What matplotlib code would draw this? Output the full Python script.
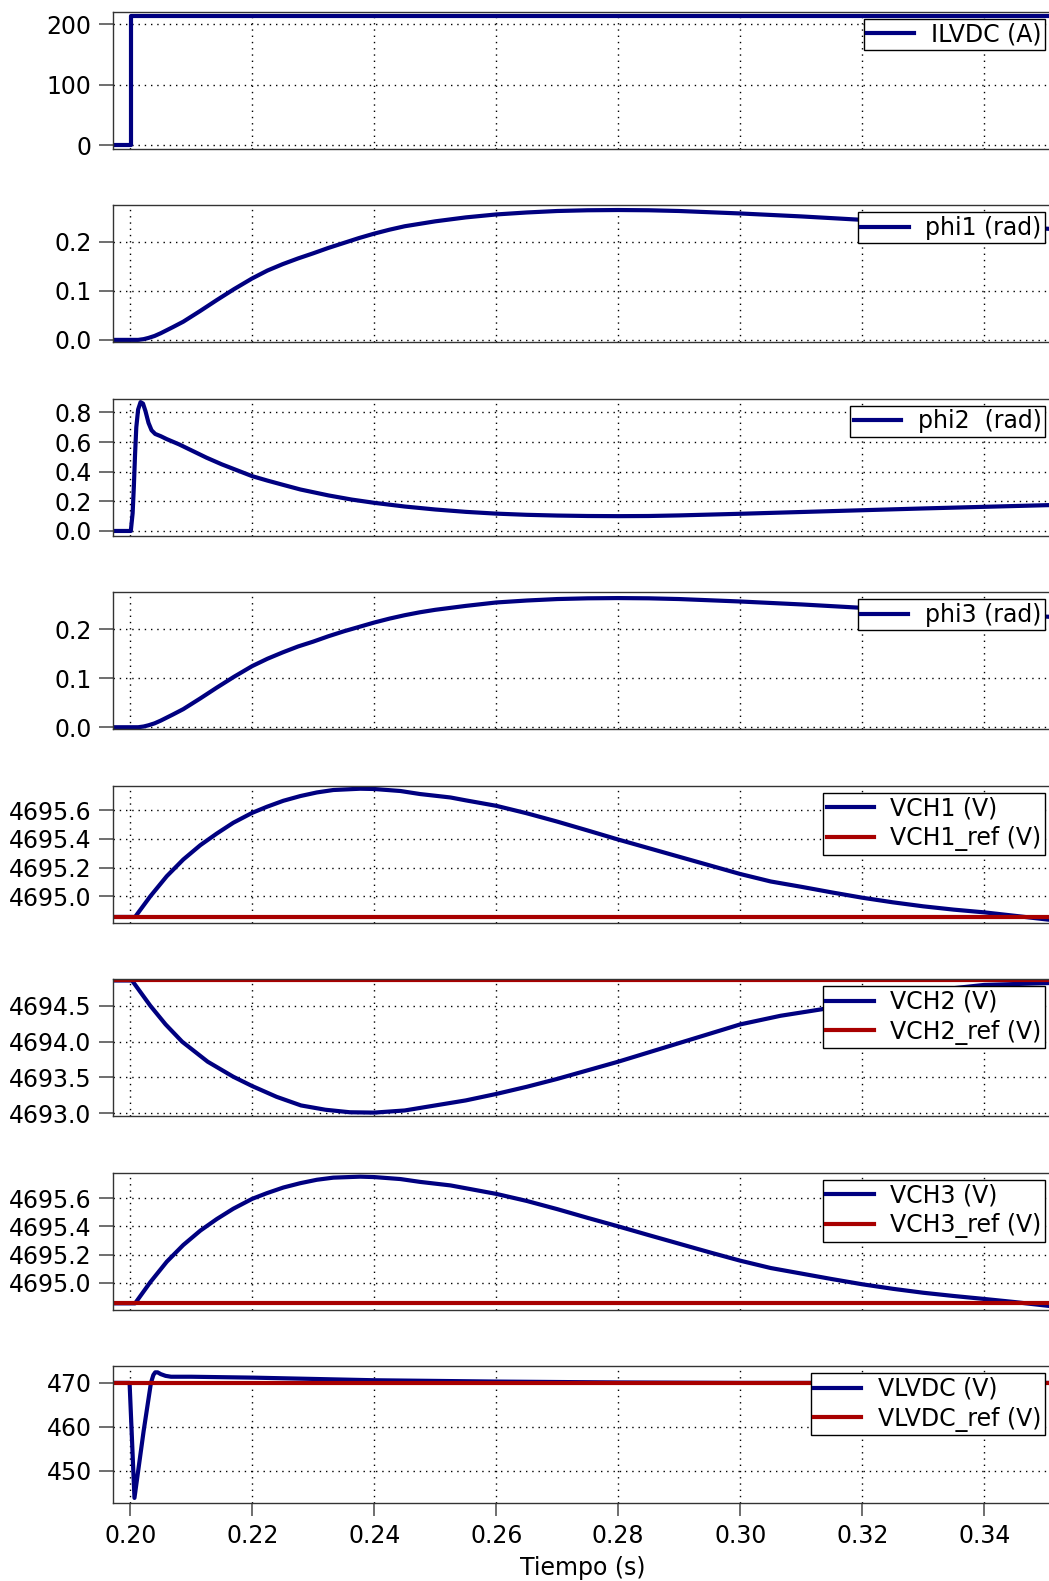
import matplotlib
matplotlib.use('Agg')
import matplotlib.pyplot as plt
from matplotlib.ticker import FormatStrFormatter

# datos (tiempo en s)
t_ilvdc = [0.1971, 0.2001, 0.2001, 0.3520]
ilvdc = [0, 0, 213, 213]

t_phi1 = [0.1971, 0.2013, 0.2022, 0.2030, 0.2040, 0.2050, 0.2070, 0.2087, 0.2115, 0.2142,
          0.2170, 0.2200, 0.2225, 0.2250, 0.2275, 0.2300, 0.2325, 0.2350, 0.2375, 0.2400,
          0.2425, 0.2450, 0.2475, 0.2500, 0.2550, 0.2600, 0.2650, 0.2700, 0.2750, 0.2800,
          0.2850, 0.2900, 0.3000, 0.3100, 0.3200, 0.3300, 0.3400, 0.3520]
phi1 = [0, 0, 0.0015, 0.004, 0.008, 0.0135, 0.026, 0.037, 0.059, 0.081,
        0.103, 0.125, 0.141, 0.154, 0.1655, 0.176, 0.187, 0.197, 0.207, 0.216,
        0.224, 0.231, 0.236, 0.241, 0.249, 0.255, 0.259, 0.262, 0.2635, 0.264,
        0.2635, 0.262, 0.257, 0.251, 0.244, 0.238, 0.232, 0.225]

t_phi2 = [0.1971, 0.2001, 0.2004, 0.2006, 0.2008, 0.2010, 0.2013, 0.2017, 0.2021, 0.2025,
          0.2030, 0.2035, 0.2041, 0.2050, 0.2060, 0.2080, 0.2100, 0.2125, 0.2150, 0.2175,
          0.2200, 0.2225, 0.2250, 0.2279, 0.2325, 0.2363, 0.2400, 0.2450, 0.2500, 0.2550,
          0.2600, 0.2650, 0.2700, 0.2750, 0.2800, 0.2850, 0.2900, 0.3000, 0.3100, 0.3200,
          0.3300, 0.3400, 0.3520]
phi2 = [0, 0, 0.12, 0.30, 0.52, 0.70, 0.82, 0.87, 0.86, 0.81,
        0.73, 0.68, 0.655, 0.64, 0.62, 0.585, 0.545, 0.495, 0.45, 0.41,
        0.37, 0.34, 0.312, 0.28, 0.24, 0.212, 0.19, 0.165, 0.145, 0.129,
        0.117, 0.109, 0.104, 0.101, 0.100, 0.101, 0.105, 0.116, 0.128, 0.140,
        0.152, 0.163, 0.176]

t_phi3 = [0.1971, 0.2013, 0.2022, 0.2030, 0.2040, 0.2050, 0.2070, 0.2087, 0.2115, 0.2142,
          0.2170, 0.2200, 0.2225, 0.2250, 0.2275, 0.2300, 0.2325, 0.2350, 0.2375, 0.2400,
          0.2425, 0.2450, 0.2475, 0.2500, 0.2550, 0.2600, 0.2650, 0.2700, 0.2750, 0.2800,
          0.2850, 0.2900, 0.3000, 0.3100, 0.3200, 0.3300, 0.3400, 0.3520]
phi3 = [0, 0, 0.0015, 0.004, 0.008, 0.0135, 0.026, 0.037, 0.059, 0.081,
        0.103, 0.125, 0.140, 0.153, 0.165, 0.175, 0.186, 0.196, 0.205, 0.214,
        0.222, 0.229, 0.235, 0.240, 0.248, 0.255, 0.259, 0.262, 0.2635, 0.264,
        0.2635, 0.262, 0.257, 0.251, 0.244, 0.238, 0.232, 0.225]

t_vch1 = [0.1971, 0.2008, 0.2033, 0.2060, 0.2087, 0.2115, 0.2142, 0.2169, 0.2200, 0.2224,
          0.2251, 0.2279, 0.2306, 0.2333, 0.2377, 0.2400, 0.2443, 0.2475, 0.2525, 0.2550,
          0.2600, 0.2650, 0.2700, 0.2750, 0.2800, 0.2850, 0.2900, 0.2950, 0.3000, 0.3050,
          0.3100, 0.3150, 0.3200, 0.3250, 0.3300, 0.3350, 0.3400, 0.3450, 0.3520]
vch1 = [4694.856, 4694.856, 4695.000, 4695.140, 4695.256, 4695.356, 4695.437, 4695.512,
        4695.581, 4695.623, 4695.665, 4695.698, 4695.723, 4695.740, 4695.749, 4695.747,
        4695.733, 4695.712, 4695.688, 4695.668, 4695.630, 4695.578, 4695.520, 4695.458,
        4695.395, 4695.335, 4695.275, 4695.215, 4695.155, 4695.103, 4695.066, 4695.027,
        4694.990, 4694.958, 4694.930, 4694.907, 4694.888, 4694.864, 4694.830]
vch1_ref = 4694.856

t_vch2 = [0.1971, 0.2003, 0.2033, 0.2058, 0.2085, 0.2127, 0.2169, 0.2200, 0.2240, 0.2280,
          0.2320, 0.2360, 0.2400, 0.2450, 0.2500, 0.2550, 0.2600, 0.2650, 0.2700, 0.2750,
          0.2800, 0.2900, 0.3000, 0.3066, 0.3133, 0.3200, 0.3300, 0.3400, 0.3520]
vch2 = [4694.852, 4694.852, 4694.50, 4694.24, 4694.00, 4693.72, 4693.51, 4693.38, 4693.23,
        4693.11, 4693.05, 4693.015, 4693.01, 4693.04, 4693.11, 4693.18, 4693.27, 4693.37,
        4693.48, 4693.60, 4693.72, 4693.98, 4694.24, 4694.36, 4694.45, 4694.56, 4694.70,
        4694.79, 4694.82]
vch2_ref = 4694.852

t_vch3 = [0.1971, 0.2008, 0.2033, 0.2060, 0.2087, 0.2115, 0.2142, 0.2169, 0.2200, 0.2224,
          0.2251, 0.2279, 0.2306, 0.2333, 0.2377, 0.2400, 0.2443, 0.2475, 0.2525, 0.2550,
          0.2600, 0.2650, 0.2700, 0.2750, 0.2800, 0.2850, 0.2900, 0.2950, 0.3000, 0.3050,
          0.3100, 0.3150, 0.3200, 0.3250, 0.3300, 0.3350, 0.3400, 0.3450, 0.3520]
vch3 = [4694.855, 4694.855, 4695.005, 4695.150, 4695.268, 4695.370, 4695.452, 4695.525,
        4695.595, 4695.635, 4695.675, 4695.706, 4695.730, 4695.745, 4695.752, 4695.749,
        4695.735, 4695.715, 4695.690, 4695.670, 4695.630, 4695.580, 4695.522, 4695.460,
        4695.400, 4695.338, 4695.277, 4695.216, 4695.157, 4695.105, 4695.066, 4695.027,
        4694.990, 4694.958, 4694.930, 4694.907, 4694.886, 4694.864, 4694.830]
vch3_ref = 4694.855

t_vlvdc = [0.1971, 0.1999, 0.2007, 0.2022, 0.2034, 0.2038, 0.2041, 0.2045, 0.2050, 0.2058,
           0.2067, 0.2100, 0.2200, 0.2400, 0.2600, 0.2800, 0.3000, 0.3200, 0.3520]
vlvdc = [470, 470, 443.8, 459, 470, 471.8, 472.4, 472.4, 472.0, 471.6,
         471.4, 471.4, 471.2, 470.6, 470.3, 470.1, 470.0, 470.0, 470.0]
vlvdc_ref = 470

x_ticks = [0.20, 0.22, 0.24, 0.26, 0.28, 0.30, 0.32, 0.34]

AZUL = '#000080'
ROJO = '#a80000'
FS = 17

plt.rcParams['font.family'] = 'DejaVu Sans'

fig = plt.figure(figsize=(10.49, 15.81), dpi=100)
W, H = 1049.0, 1581.0

paneles = [
    ([(t_ilvdc, ilvdc, 'ILVDC (A)')], None, (-5.5, 220.9), [0, 100, 200], '%d'),
    ([(t_phi1, phi1, 'phi1 (rad)')], None, (-0.0047, 0.2738), [0.0, 0.1, 0.2], '%.1f'),
    ([(t_phi2, phi2, 'phi2  (rad)')], None, (-0.032, 0.893), [0.0, 0.2, 0.4, 0.6, 0.8], '%.1f'),
    ([(t_phi3, phi3, 'phi3 (rad)')], None, (-0.004, 0.276), [0.0, 0.1, 0.2], '%.1f'),
    ([(t_vch1, vch1, 'VCH1 (V)')], (vch1_ref, 'VCH1_ref (V)'), (4694.816, 4695.77),
     [4695.0, 4695.2, 4695.4, 4695.6], '%.1f'),
    ([(t_vch2, vch2, 'VCH2 (V)')], (vch2_ref, 'VCH2_ref (V)'), (4692.96, 4694.87),
     [4693.0, 4693.5, 4694.0, 4694.5], '%.1f'),
    ([(t_vch3, vch3, 'VCH3 (V)')], (vch3_ref, 'VCH3_ref (V)'), (4694.81, 4695.78),
     [4695.0, 4695.2, 4695.4, 4695.6], '%.1f'),
    ([(t_vlvdc, vlvdc, 'VLVDC (V)')], (vlvdc_ref, 'VLVDC_ref (V)'), (442.6, 473.8),
     [450, 460, 470], '%d'),
]

left_px, right_px = 112.5, 1052.0
for i, (series, ref, ylim, yticks, fmt) in enumerate(paneles):
    top_px = 11.7 + 193.5 * i
    h_px = 137.0
    ax = fig.add_axes([left_px / W, 1 - (top_px + h_px) / H,
                       (right_px - left_px) / W, h_px / H])
    for t, v, lab in series:
        ax.plot(t, v, color=AZUL, lw=3, label=lab, solid_joinstyle='round')
    if ref is not None:
        ax.axhline(ref[0], color=ROJO, lw=3, label=ref[1])
    ax.set_xlim(0.1971, 0.3511)
    ax.set_ylim(*ylim)
    ax.set_yticks(yticks)
    ax.yaxis.set_major_formatter(FormatStrFormatter(fmt))
    ax.set_xticks(x_ticks)
    ax.grid(True, color='black', lw=1.0, linestyle=(0, (1, 3.5)))
    ax.tick_params(axis='y', direction='out', length=10, width=1.2, color='#555555',
                   labelsize=FS, pad=5)
    for s in ax.spines.values():
        s.set_color('#333333')
        s.set_linewidth(1.0)
    if i < len(paneles) - 1:
        ax.tick_params(axis='x', length=0, labelbottom=False)
    else:
        ax.tick_params(axis='x', direction='out', length=9, width=1.2, color='#555555',
                       labelsize=FS, pad=6)
        ax.xaxis.set_major_formatter(FormatStrFormatter('%.2f'))
        ax.set_xlabel('Tiempo (s)', fontsize=FS, labelpad=6)
    leg = ax.legend(loc='upper right', fontsize=FS, fancybox=False, framealpha=1,
                    edgecolor='black', borderaxespad=0.3, borderpad=0.15,
                    labelspacing=0.25, handlelength=2.0, handletextpad=0.7)
    leg.get_frame().set_linewidth(1.0)

fig.savefig('out.png', dpi=100)
